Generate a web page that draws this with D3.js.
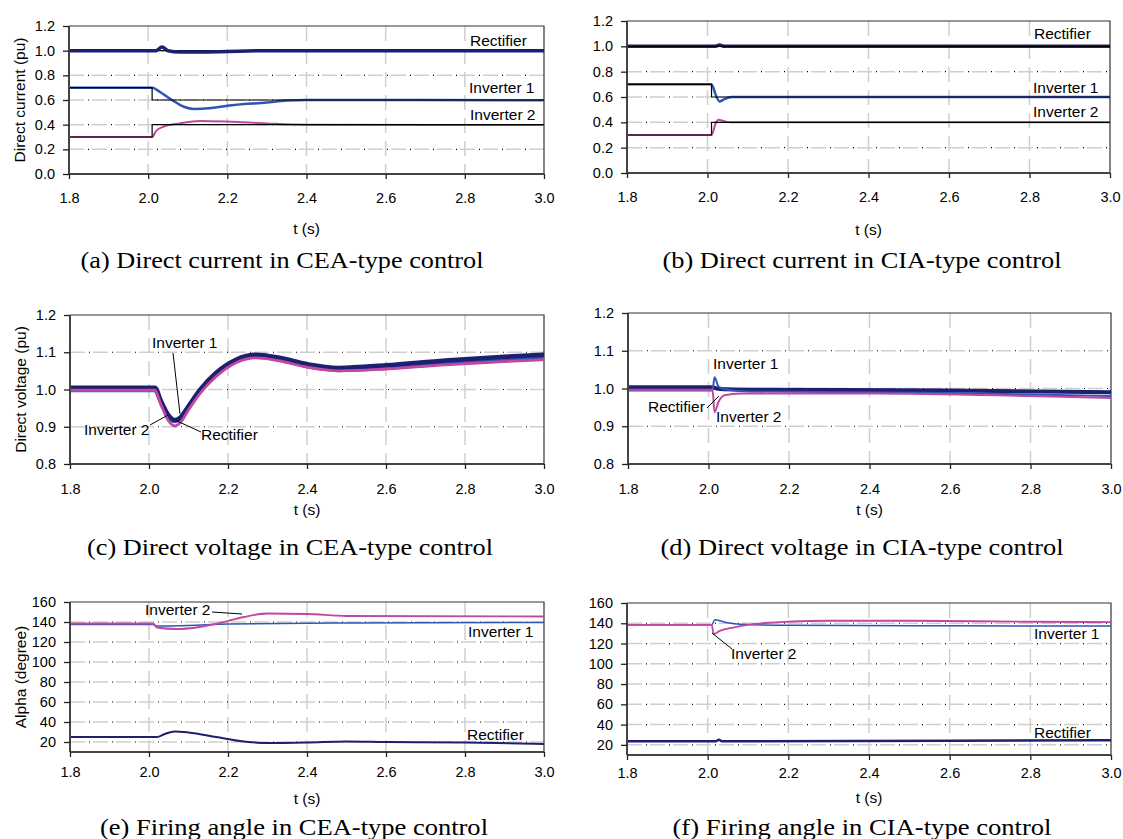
<!DOCTYPE html>
<html>
<head>
<meta charset="utf-8">
<script src="https://cdn.jsdelivr.net/npm/d3@7"></script>
<style>
  body { margin: 0; background: #fff; }
  svg { display: block; }
  .tick text { font-family: "Liberation Sans", Arial, sans-serif; font-size: 14.5px; fill: #000; }
  .lbl { font-family: "Liberation Sans", Arial, sans-serif; font-size: 15.5px; fill: #000; }
  .cap { font-family: "Liberation Serif", "Times New Roman", serif; font-size: 24px; fill: #000; }
</style>
</head>
<body>
<svg id="chart" width="1123" height="839"></svg>
<script>
// x ticks shared by all panels
const tTicks = [1.8, 2.0, 2.2, 2.4, 2.6, 2.8, 3.0];

// reference (order) steps for direct current
const refT = [1.8, 2.01, 2.01, 3.0];
const refRect = [1.0, 1.0, 1.0, 1.0];
const refInv1 = [0.7, 0.7, 0.6, 0.6];
const refInv2 = [0.3, 0.3, 0.4, 0.4];

// (a) direct current, CEA
const aRectT = [1.8, 2.02, 2.035, 2.05, 2.08, 2.15, 2.3, 3.0];
const aRect = [1.0, 1.0, 1.03, 1.0, 0.99, 0.99, 1.0, 1.0];
const aInv1T = [1.8, 2.01, 2.03, 2.06, 2.09, 2.115, 2.16, 2.2, 2.3, 2.35, 2.4, 3.0];
const aInv1 = [0.7, 0.7, 0.665, 0.6, 0.545, 0.527, 0.535, 0.553, 0.58, 0.595, 0.6, 0.598];
const aInv2T = [1.8, 2.01, 2.02, 2.04, 2.08, 2.13, 2.2, 2.3, 2.4, 3.0];
const aInv2 = [0.3, 0.3, 0.35, 0.385, 0.41, 0.43, 0.425, 0.41, 0.4, 0.397];

// (b) direct current, CIA
const bRectT = [1.8, 2.02, 2.03, 2.04, 3.0];
const bRect = [1.0, 1.0, 1.01, 1.0, 1.0];
const bInv1T = [1.8, 2.01, 2.02, 2.03, 2.04, 2.06, 3.0];
const bInv1 = [0.7, 0.7, 0.62, 0.565, 0.58, 0.6, 0.6];
const bInv2T = [1.8, 2.01, 2.02, 2.027, 2.04, 2.06, 3.0];
const bInv2 = [0.3, 0.3, 0.39, 0.42, 0.41, 0.4, 0.4];

// (c) direct voltage, CEA
const cT = [1.8, 2.015, 2.03, 2.05, 2.066, 2.08, 2.1, 2.13, 2.17, 2.22, 2.27, 2.33, 2.4, 2.48, 2.6, 2.75, 2.9, 3.0];
const cRect = [1.005, 1.005, 0.97, 0.93, 0.918, 0.925, 0.955, 1.0, 1.045, 1.08, 1.093, 1.085, 1.068, 1.058, 1.065, 1.078, 1.088, 1.093];
const cInv1 = [0.998, 0.998, 0.965, 0.925, 0.915, 0.925, 0.955, 1.0, 1.04, 1.075, 1.088, 1.08, 1.062, 1.052, 1.058, 1.07, 1.08, 1.085];
const cInv2 = [0.998, 0.998, 0.96, 0.915, 0.902, 0.912, 0.945, 0.99, 1.035, 1.072, 1.085, 1.077, 1.06, 1.05, 1.055, 1.066, 1.075, 1.08];

// (d) direct voltage, CIA
const dRectT = [1.8, 2.01, 2.02, 2.04, 2.1, 2.6, 3.0];
const dRect = [1.003, 1.003, 1.0, 0.998, 0.997, 0.995, 0.99];
const dInv1T = [1.8, 2.01, 2.015, 2.025, 2.04, 2.1, 2.6, 3.0];
const dInv1 = [0.995, 0.995, 1.03, 1.005, 0.998, 0.992, 0.988, 0.98];
const dInv2T = [1.8, 2.01, 2.015, 2.025, 2.04, 2.08, 2.4, 2.8, 3.0];
const dInv2 = [0.997, 0.997, 0.937, 0.965, 0.982, 0.987, 0.987, 0.98, 0.975];

// (e) firing angle, CEA
const eRectT = [1.8, 2.02, 2.04, 2.065, 2.1, 2.17, 2.23, 2.3, 2.4, 2.5, 2.6, 2.8, 3.0];
const eRect = [25, 25, 28, 30.5, 29.5, 25, 21, 19, 19.5, 20.5, 20, 19.5, 18];
const eInv1T = [1.8, 2.01, 2.02, 2.1, 2.2, 2.5, 3.0];
const eInv1 = [137.5, 137.5, 136, 136.5, 138, 139, 139.5];
const eInv2T = [1.8, 2.01, 2.02, 2.07, 2.12, 2.18, 2.24, 2.3, 2.4, 2.5, 3.0];
const eInv2 = [138.5, 138.5, 134.5, 133, 134.5, 139, 145, 148.5, 148, 146, 145.5];

// (f) firing angle, CIA
const fRectT = [1.8, 2.02, 2.028, 2.035, 2.6, 3.0];
const fRect = [23.5, 23.5, 25, 23.5, 24, 24.5];
const fInv1T = [1.8, 2.01, 2.018, 2.03, 2.05, 2.08, 2.2, 2.6, 3.0];
const fInv1 = [138.5, 138.5, 143.5, 142.5, 140.5, 139, 138, 137.5, 137.3];
const fInv2T = [1.8, 2.01, 2.015, 2.03, 2.06, 2.1, 2.15, 2.2, 2.3, 2.5, 2.8, 3.0];
const fInv2 = [138.5, 138.5, 129.5, 132.5, 135.5, 138.5, 140.5, 141.5, 142.5, 142.5, 141.5, 141.2];

const currentTicks = [0.0, 0.2, 0.4, 0.6, 0.8, 1.0, 1.2];
const voltageTicks = [0.8, 0.9, 1.0, 1.1, 1.2];
const alphaTicks = [20, 40, 60, 80, 100, 120, 140, 160];

const NAVY = '#1f1f72', BLUE = '#2f55b3', MAG = '#c2479f';

const svg = d3.select('#chart');
const zip = (ts, vs) => ts.map((t, i) => ({ t, v: vs[i] }));

function drawPanel(p) {
  const x = d3.scaleLinear().domain([1.8, 3.0]).range([p.left, p.right]);
  const y = d3.scaleLinear().domain(p.yDomain).range([p.bottom, p.top]);
  const g = svg.append('g');

  // grid
  const gridX = tTicks.slice(1, -1), gridY = p.yTicks.filter(v => v > p.yDomain[0] && v < p.yDomain[1]);
  gridX.forEach(v => {
    g.append('line').attr('x1', x(v)).attr('x2', x(v)).attr('y1', p.top).attr('y2', p.bottom)
      .attr('stroke', '#cfcfcf').attr('stroke-width', 1.5).attr('stroke-dasharray', '15,8');
  });
  gridY.forEach(v => {
    g.append('line').attr('x1', p.left).attr('x2', p.right).attr('y1', y(v)).attr('y2', y(v))
      .attr('stroke', '#cfcfcf').attr('stroke-width', 1.5).attr('stroke-dasharray', '15,8');
    g.append('line').attr('x1', p.left).attr('x2', p.right).attr('y1', y(v)).attr('y2', y(v))
      .attr('stroke', '#000').attr('stroke-width', 1.2).attr('stroke-dasharray', '1,22')
      .attr('stroke-dashoffset', -19);
  });

  // frame top/right
  g.append('path').attr('d', `M${p.left},${p.top}H${p.right}V${p.bottom}`)
    .attr('fill', 'none').attr('stroke', '#333').attr('stroke-width', 1.2);

  // series
  const line = d3.line().x(d => x(d.t)).y(d => y(d.v));
  p.series.forEach(s => {
    line.curve(s.curve || d3.curveMonotoneX);
    g.append('path').datum(zip(s.t, s.v)).attr('d', line)
      .attr('fill', 'none').attr('stroke', s.color).attr('stroke-width', s.w)
      .attr('stroke-linejoin', 'round');
  });

  // axes
  const xa = g.append('g').attr('transform', `translate(0,${p.bottom})`)
    .call(d3.axisBottom(x).tickValues(tTicks).tickFormat(d3.format('.1f')).tickSizeOuter(0).tickSize(5).tickPadding(p.xPad));
  const ya = g.append('g').attr('transform', `translate(${p.left},0)`)
    .call(d3.axisLeft(y).tickValues(p.yTicks).tickFormat(p.yFmt).tickSizeOuter(0).tickSize(6).tickPadding(8));
  [xa, ya].forEach(a => {
    a.select('.domain').attr('stroke', '#444').attr('stroke-width', 2);
    a.selectAll('.tick line').attr('stroke', '#222').attr('stroke-width', 1.3);
  });
  xa.select('.domain').attr('d', `M${p.left},0H${p.right}`);
  ya.select('.domain').attr('d', `M0,${p.top}V${p.bottom}`);

  // axis titles
  const mid = (p.left + p.right) / 2;
  g.append('text').attr('class', 'lbl').attr('x', mid).attr('y', p.tLabelY)
    .attr('text-anchor', 'middle').text('t (s)');
  if (p.yLabel) {
    g.append('text').attr('class', 'lbl')
      .attr('transform', `translate(${p.left - 44},${(p.top + p.bottom) / 2}) rotate(-90)`)
      .attr('text-anchor', 'middle').text(p.yLabel);
  }
  g.append('text').attr('class', 'cap').attr('x', p.capX).attr('y', p.capY)
    .attr('text-anchor', 'middle').attr('textLength', p.capW).attr('lengthAdjust', 'spacingAndGlyphs')
    .text(p.caption);

  // annotations
  (p.notes || []).forEach(n => {
    g.append('text').attr('class', 'lbl').attr('x', n.x).attr('y', n.y).text(n.text);
    if (n.lead) {
      g.append('line').attr('x1', n.lead[0]).attr('y1', n.lead[1]).attr('x2', n.lead[2]).attr('y2', n.lead[3])
        .attr('stroke', '#000').attr('stroke-width', 1);
    }
  });
}

const curFmt = d3.format('.1f');

drawPanel({
  left: 69, right: 544, top: 26, bottom: 174, yDomain: [0, 1.2], yTicks: currentTicks, yFmt: curFmt,
  xPad: 14, tLabelY: 234, capX: 282, capY: 268, capW: 403, yLabel: 'Direct current (pu)',
  caption: '(a) Direct current in CEA-type control',
  series: [
    { t: refT, v: refRect, color: '#000', w: 1.2, curve: d3.curveLinear },
    { t: aRectT, v: aRect, color: NAVY, w: 3.5 },
    { t: aInv1T, v: aInv1, color: BLUE, w: 2.5 },
    { t: aInv2T, v: aInv2, color: MAG, w: 2 },
    { t: refT, v: refInv1, color: '#000', w: 1.2, curve: d3.curveLinear },
    { t: refT, v: refInv2, color: '#000', w: 1.2, curve: d3.curveLinear }
  ],
  notes: [
    { text: 'Rectifier', x: 470, y: 46 },
    { text: 'Inverter 1', x: 469, y: 93 },
    { text: 'Inverter 2', x: 470, y: 120 }
  ]
});

drawPanel({
  left: 627, right: 1110, top: 21, bottom: 173, yDomain: [0, 1.2], yTicks: currentTicks, yFmt: curFmt,
  xPad: 14, tLabelY: 235, capX: 862, capY: 268, capW: 399,
  caption: '(b) Direct current in CIA-type control',
  series: [
    { t: bRectT, v: bRect, color: NAVY, w: 3.5 },
    { t: bInv1T, v: bInv1, color: BLUE, w: 2.5 },
    { t: bInv2T, v: bInv2, color: MAG, w: 2 },
    { t: refT, v: refRect, color: '#000', w: 1.2, curve: d3.curveLinear },
    { t: refT, v: refInv1, color: '#000', w: 1.2, curve: d3.curveLinear },
    { t: refT, v: refInv2, color: '#000', w: 1.2, curve: d3.curveLinear }
  ],
  notes: [
    { text: 'Rectifier', x: 1034, y: 39 },
    { text: 'Inverter 1', x: 1033, y: 93 },
    { text: 'Inverter 2', x: 1033, y: 117 }
  ]
});

drawPanel({
  left: 70, right: 544, top: 315, bottom: 464, yDomain: [0.8, 1.2], yTicks: voltageTicks, yFmt: curFmt,
  xPad: 15, tLabelY: 515, capX: 290, capY: 555, capW: 406, yLabel: 'Direct voltage (pu)',
  caption: '(c) Direct voltage in CEA-type control',
  series: [
    { t: cT, v: cInv1, color: BLUE, w: 4 },
    { t: cT, v: cRect, color: NAVY, w: 4.5 },
    { t: cT, v: cInv2, color: MAG, w: 2.8 }
  ],
  notes: [
    { text: 'Inverter 1', x: 152, y: 348, lead: [173, 353, 180, 414] },
    { text: 'Inverter 2', x: 84, y: 435, lead: [150, 425, 168, 415] },
    { text: 'Rectifier', x: 201, y: 440, lead: [201, 432, 177, 421] }
  ]
});

drawPanel({
  left: 628, right: 1111, top: 313, bottom: 464, yDomain: [0.8, 1.2], yTicks: voltageTicks, yFmt: curFmt,
  xPad: 15, tLabelY: 515, capX: 862, capY: 555, capW: 403,
  caption: '(d) Direct voltage in CIA-type control',
  series: [
    { t: dRectT, v: dRect, color: NAVY, w: 4 },
    { t: dInv1T, v: dInv1, color: BLUE, w: 2 },
    { t: dInv2T, v: dInv2, color: MAG, w: 2 }
  ],
  notes: [
    { text: 'Inverter 1', x: 713, y: 369 },
    { text: 'Rectifier', x: 648, y: 412, lead: [707, 408, 719, 396] },
    { text: 'Inverter 2', x: 716, y: 422 }
  ]
});

drawPanel({
  left: 70, right: 544, top: 602, bottom: 752, yDomain: [10, 160], yTicks: alphaTicks, yFmt: d3.format('d'),
  xPad: 10, tLabelY: 804, capX: 294, capY: 835, capW: 388, yLabel: 'Alpha (degree)',
  caption: '(e) Firing angle in CEA-type control',
  series: [
    { t: eRectT, v: eRect, color: NAVY, w: 2 },
    { t: eInv1T, v: eInv1, color: BLUE, w: 1.5 },
    { t: eInv2T, v: eInv2, color: MAG, w: 1.8 }
  ],
  notes: [
    { text: 'Inverter 2', x: 145, y: 615, lead: [212, 612, 242, 614] },
    { text: 'Inverter 1', x: 468, y: 637 },
    { text: 'Rectifier', x: 467, y: 740 }
  ]
});

drawPanel({
  left: 627, right: 1111, top: 603, bottom: 755, yDomain: [10, 160], yTicks: alphaTicks, yFmt: d3.format('d'),
  xPad: 8, tLabelY: 803, capX: 862, capY: 835, capW: 379,
  caption: '(f) Firing angle in CIA-type control',
  series: [
    { t: fRectT, v: fRect, color: NAVY, w: 2.5 },
    { t: fInv1T, v: fInv1, color: BLUE, w: 1.5 },
    { t: fInv2T, v: fInv2, color: MAG, w: 1.8 }
  ],
  notes: [
    { text: 'Inverter 2', x: 731, y: 659, lead: [732, 649, 712, 633] },
    { text: 'Inverter 1', x: 1034, y: 639 },
    { text: 'Rectifier', x: 1034, y: 738 }
  ]
});
</script>
</body>
</html>
